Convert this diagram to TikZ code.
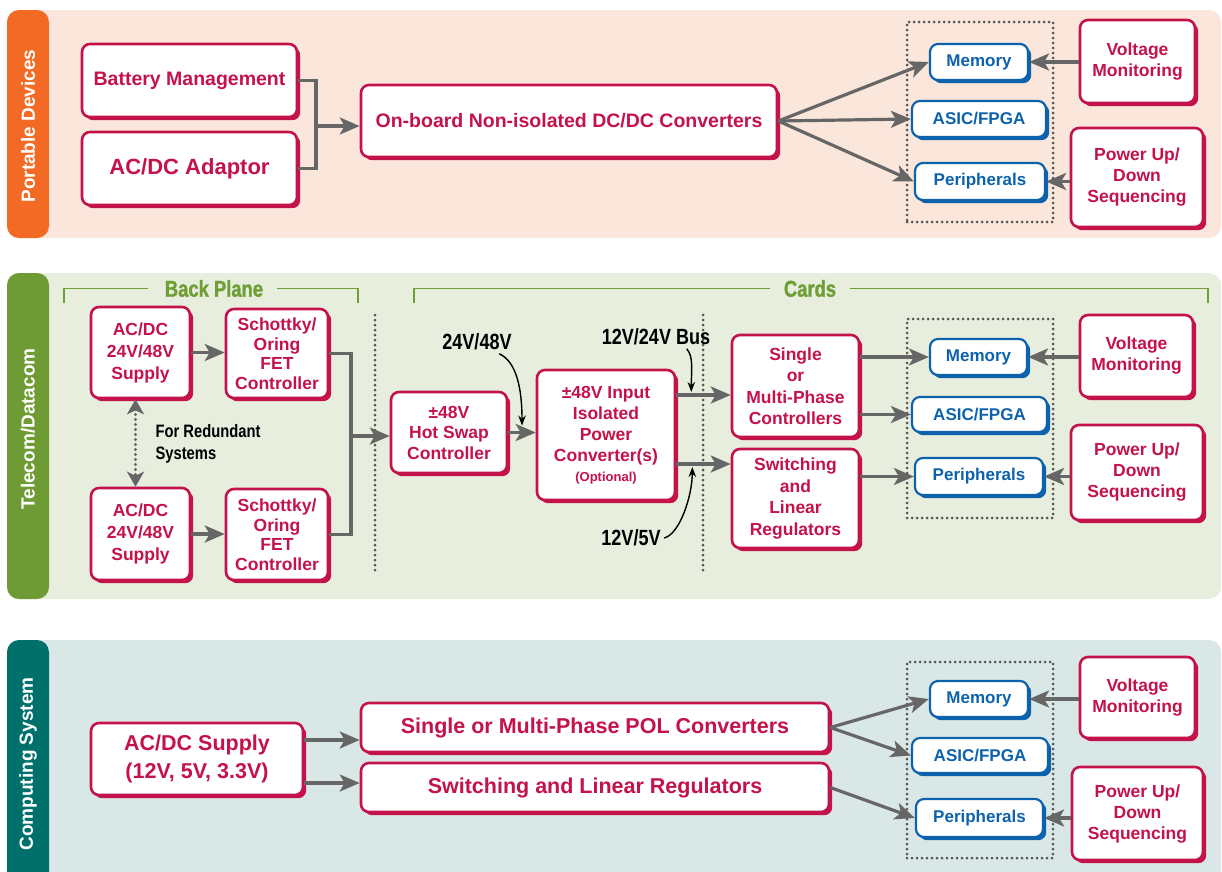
\documentclass[tikz,border=0pt]{standalone}
\usepackage{fontspec}
\setmainfont{Liberation Sans}
\newfontfamily\condfont[FakeStretch=0.82]{Liberation Sans}
\newfontfamily\headfont[FakeStretch=0.8, FakeBold=1.2]{Liberation Sans}
\usetikzlibrary{arrows.meta, positioning, calc, shadows}
\definecolor{crimson}{HTML}{C4124A}
\definecolor{chipblue}{HTML}{0D62AC}
\definecolor{flowgray}{HTML}{666666}
\definecolor{dotgray}{HTML}{555555}
\definecolor{portfill}{HTML}{FBE6DC}
\definecolor{portband}{HTML}{F26A23}
\definecolor{telefill}{HTML}{E7EEDD}
\definecolor{teleband}{HTML}{6E9B33}
\definecolor{compfill}{HTML}{D9E8E7}
\definecolor{compband}{HTML}{00706B}
\definecolor{bracketgreen}{HTML}{6F9E36}
\def\bandwidth{42pt}
\def\shadowoff{3.2pt}
\tikzset{
  card/.style={rectangle, rounded corners=8pt, align=center, fill=white,
               line width=2.6pt, inner sep=2pt},
  redbox/.style={card, draw=crimson, text=crimson,
                 font=\fontsize{17.5}{21}\selectfont\bfseries,
                 drop shadow={shadow xshift=\shadowoff, shadow yshift=-\shadowoff,
                              fill=crimson, opacity=1}},
  bigred/.style={redbox, font=\fontsize{19.5}{22}\selectfont\bfseries},
  hugered/.style={redbox, font=\fontsize{21.5}{28}\selectfont\bfseries},
  chip/.style={card, draw=chipblue, text=chipblue, line width=2.2pt,
               font=\fontsize{17}{20}\selectfont\bfseries,
               drop shadow={shadow xshift=\shadowoff, shadow yshift=-\shadowoff,
                            fill=chipblue, opacity=1}},
  panel/.style={rectangle, rounded corners=12pt, minimum width=1214pt},
  band/.style={path picture={\fill[#1] (path picture bounding box.south west)
               rectangle ([xshift=\bandwidth]path picture bounding box.north west);}},
  bandtitle/.style={rotate=90, text=white, font=\fontsize{19}{22}\selectfont\bfseries},
  chipgroup/.style={draw=dotgray, line width=3pt, dash pattern=on 0pt off 5pt,
                    line cap=round, minimum width=146pt},
  divider/.style={draw=dotgray, line width=3pt, dash pattern=on 0pt off 5pt,
                  line cap=round},
  sectitle/.style={text=bracketgreen, font=\headfont\fontsize{23}{26}\selectfont\bfseries},
  bracket/.style={draw=bracketgreen, line width=1.4pt},
  railtag/.style={text=black, font=\condfont\fontsize{22}{24}\selectfont\bfseries},
  note/.style={text=black, align=left, font=\condfont\fontsize{18}{22}\selectfont\bfseries},
  flow/.style={-{Stealth[length=20pt, width=17pt, inset=5pt]}, line width=3.2pt, draw=flowgray},
  wire/.style={line width=3.2pt, draw=flowgray},
  tap/.style={-{Stealth[length=10pt, width=7.5pt]}, line width=1.4pt, draw=black},
  redund/.style={{Stealth[length=15pt, width=17pt, inset=4pt]}-{Stealth[length=15pt, width=17pt, inset=4pt]},
                 line width=3.2pt, draw=flowgray, dash pattern=on 0pt off 5pt, line cap=round},
}

\begin{document}
\begin{tikzpicture}[x=1pt, y=-1pt]
\useasboundingbox (0,0) rectangle (1222,871);

% Panels with their side bands
\node[panel, fill=portfill, minimum height=228pt, band=portband] (portable) at (614,124) {};
\node[panel, fill=telefill, minimum height=326pt, band=teleband] (telecom) at (614,436) {};
\node[panel, fill=compfill, minimum height=246pt, band=compband] (computing) at (614,763) {};
\node[bandtitle] (porttitle) at (28,126) {Portable Devices};
\node[bandtitle] (teletitle) at (28,429) {Telecom/Datacom};
\node[bandtitle] (comptitle) at (28,764) {Computing System};

% Panel 1: portable devices
\node[bigred, minimum width=215pt, minimum height=73pt] (battery) at (189.5,80.5) {Battery Management};
\node[redbox, font=\fontsize{22}{26}\selectfont\bfseries, minimum width=215pt,
      minimum height=73pt] (adaptor) at (189.5,168.5) {AC/DC Adaptor};
\node[bigred, minimum width=416pt, minimum height=72pt] (onboard) at (569,121) {On-board Non-isolated DC/DC Converters};
\node[chipgroup, minimum height=200pt] (grp1) at (980,122) {};
\node[chip, minimum width=98pt, minimum height=36pt] (mem1) at (979,62) {Memory};
\node[chip, minimum width=134pt, minimum height=36pt] (asic1) at (979,119) {ASIC/FPGA};
\node[chip, minimum width=130pt, minimum height=37pt] (peri1) at (980,181.5) {Peripherals};
\node[redbox, minimum width=115pt, minimum height=83pt] (volt1) at (1137.5,61.5) {Voltage\\Monitoring};
\node[redbox, minimum width=132pt, minimum height=99pt] (pwr1) at (1137,177.5) {Power Up/\\Down\\Sequencing};

\coordinate (join1) at (316,126);
\draw[wire] (battery.east) -| (join1);
\draw[wire] (adaptor.east) -| (join1);
\draw[flow] (join1) -- (join1 -| onboard.west);
\draw[flow] (onboard.east) -- (mem1.west);
\draw[flow] (onboard.east) -- (asic1.west);
\draw[flow] (onboard.east) -- (peri1.west);
\draw[flow] (volt1.west |- mem1.east) -- (mem1.east);
\draw[flow] (pwr1.west |- peri1.east) -- (peri1.east);

% Panel 2: telecom/datacom
\node[sectitle] (backplane) at (214,288.5) {Back Plane};
\node[sectitle] (cards) at (810,288.5) {Cards};
\coordinate (bpl) at (64,303);
\coordinate (bpr) at (358,303);
\coordinate (cdl) at (414,303);
\coordinate (cdr) at (1208,303);
\draw[bracket] (bpl) |- ([xshift=-13pt]backplane.west);
\draw[bracket] ([xshift=10pt]backplane.east) -| (bpr);
\draw[bracket] (cdl) |- ([xshift=-10pt]cards.west);
\draw[bracket] ([xshift=10pt]cards.east) -| (cdr);

\node[redbox, minimum width=99pt, minimum height=91pt, font=\fontsize{17.5}{22}\selectfont\bfseries] (acdc1) at (140.5,352.5) {AC/DC\\24V/48V\\Supply};
\node[redbox, minimum width=99pt, minimum height=92pt, font=\fontsize{17.5}{22}\selectfont\bfseries] (acdc2) at (140.5,534) {AC/DC\\24V/48V\\Supply};
\node[redbox, minimum width=102pt, minimum height=89pt, font=\fontsize{17.5}{19.5}\selectfont\bfseries] (schot1) at (277,353.5) {Schottky/\\Oring\\FET\\Controller};
\node[redbox, minimum width=102pt, minimum height=91pt, font=\fontsize{17.5}{19.5}\selectfont\bfseries] (schot2) at (277,534.5) {Schottky/\\Oring\\FET\\Controller};
\node[note, anchor=west] (redundnote) at (152,444) {For Redundant\\Systems};

\draw[flow] (acdc1.east) -- (schot1.west |- acdc1.east);
\draw[flow] (acdc2.east) -- (schot2.west |- acdc2.east);
\draw[redund] ([xshift=-5pt]acdc1.south) -- ([xshift=-5pt]acdc2.north);

\coordinate (join2) at (351,436);
\draw[wire] (schot1.east) -| (join2);
\draw[wire] (schot2.east) -| (join2);

\coordinate (div1top) at (375,315);
\coordinate (div1bot) at (375,570);
\coordinate (div2top) at (703,315);
\coordinate (div2bot) at (703,570);
\draw[divider] (div1top) -- (div1bot);
\draw[divider] (div2top) -- (div2bot);

\node[redbox, minimum width=116pt, minimum height=81pt, font=\fontsize{17.5}{20.5}\selectfont\bfseries] (hotswap) at (449,432.5) {±48V\\Hot Swap\\Controller};
\node[redbox, minimum width=138pt, minimum height=130pt] (iso) at (606,435) {±48V Input\\Isolated\\Power\\Converter(s)\\[-1pt]{\fontsize{13}{15}\selectfont (Optional)}};
\draw[flow] (join2) -- (join2 -| hotswap.west);
\draw[flow] (hotswap.east) -- (hotswap.east -| iso.west);

\node[redbox, minimum width=127pt, minimum height=102pt, font=\fontsize{17.5}{21.5}\selectfont\bfseries] (single) at (795.5,386) {Single\\or\\Multi-Phase\\Controllers};
\node[redbox, minimum width=127pt, minimum height=99pt, font=\fontsize{17.5}{21.5}\selectfont\bfseries] (switch) at (795.5,498.5) {Switching\\and\\Linear\\Regulators};
\draw[flow] ([yshift=40pt]iso.east) coordinate (busout) -- (busout -| single.west);
\draw[flow] ([yshift=-29pt]iso.east) coordinate (lowout) -- (lowout -| switch.west);

\node[railtag] (in2448) at (477,342) {24V/48V};
\node[railtag] (bus1224) at (656,337) {12V/24V Bus};
\node[railtag] (out125) at (631,538) {12V/5V};
\coordinate (tapin) at ($(hotswap.east)!0.5!(hotswap.east -| iso.west)+(0,-7)$);
\coordinate (bustap) at ($(busout)+(15,-3)$);
\coordinate (lowtap) at ($(lowout)+(16,3)$);
\draw[tap] ([xshift=-16pt]in2448.south east) .. controls +(18,8) and +(0,-35) .. (tapin);
\draw[tap] ([xshift=-27pt]bus1224.south east) .. controls +(7,8) and +(0,-22) .. (bustap);
\draw[tap] (out125.east) .. controls +(16,-4) and +(0,28) .. (lowtap);

\node[chipgroup, minimum height=199pt] (grp2) at (980,418.5) {};
\node[chip, minimum width=97pt, minimum height=36pt] (mem2) at (978.5,357) {Memory};
\node[chip, minimum width=135pt, minimum height=35pt] (asic2) at (979.5,414.5) {ASIC/FPGA};
\node[chip, minimum width=128pt, minimum height=37pt] (peri2) at (979,476.5) {Peripherals};
\node[redbox, minimum width=113pt, minimum height=82pt] (volt2) at (1136.5,356) {Voltage\\Monitoring};
\node[redbox, minimum width=132pt, minimum height=95pt] (pwr2) at (1137,472.5) {Power Up/\\Down\\Sequencing};

\draw[flow] (single.east |- mem2.west) -- (mem2.west);
\draw[flow] (single.east |- asic2.west) -- (asic2.west);
\draw[flow] (switch.east |- peri2.west) -- (peri2.west);
\draw[flow] (volt2.west |- mem2.east) -- (mem2.east);
\draw[flow] (pwr2.west |- peri2.east) -- (peri2.east);

% Panel 3: computing system
\node[hugered, minimum width=212pt, minimum height=72pt] (acdc3) at (197,759) {AC/DC Supply\\(12V, 5V, 3.3V)};
\node[hugered, minimum width=468pt, minimum height=49pt] (pol) at (595,727.5) {Single or Multi-Phase POL Converters};
\node[hugered, minimum width=468pt, minimum height=49pt] (swlin) at (595,787.5) {Switching and Linear Regulators};
\draw[flow] ([yshift=19pt]acdc3.east) coordinate (polin) -- (polin -| pol.west);
\draw[flow] ([yshift=-24pt]acdc3.east) coordinate (swin) -- (swin -| swlin.west);

\node[chipgroup, minimum height=196pt] (grp3) at (980,760) {};
\node[chip, minimum width=98pt, minimum height=36pt] (mem3) at (979,699) {Memory};
\node[chip, minimum width=136pt, minimum height=35pt] (asic3) at (980,755.5) {ASIC/FPGA};
\node[chip, minimum width=127pt, minimum height=38pt] (peri3) at (979.5,818) {Peripherals};
\node[redbox, minimum width=115pt, minimum height=81pt] (volt3) at (1137.5,697.5) {Voltage\\Monitoring};
\node[redbox, minimum width=131pt, minimum height=93pt] (pwr3) at (1137.5,813.5) {Power Up/\\Down\\Sequencing};

\draw[flow] (pol.east) -- (mem3.west);
\draw[flow] (pol.east) -- (asic3.west);
\draw[flow] (swlin.east) -- (peri3.west);
\draw[flow] (volt3.west |- mem3.east) -- (mem3.east);
\draw[flow] (pwr3.west |- peri3.east) -- (peri3.east);

\end{tikzpicture}
\end{document}
